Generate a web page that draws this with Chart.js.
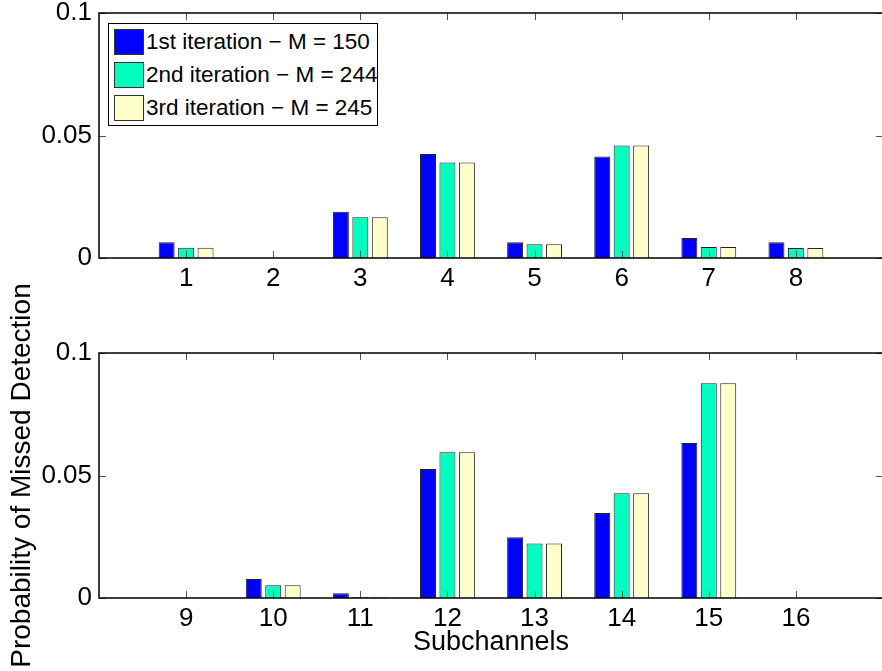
<!DOCTYPE html>
<html>
<head>
<meta charset="utf-8">
<script src="https://cdn.jsdelivr.net/npm/chart.js@4"></script>
<style>
  html, body { margin: 0; padding: 0; background: #fff; overflow: hidden; }
  body { width: 882px; height: 671px; position: relative; font-family: "Liberation Sans", Arial, sans-serif; }
  canvas { position: absolute; left: 0; }
  #legend { position: absolute; left: 108px; top: 23px; width: 268px; height: 101px; border: 1.5px solid #000; background: #fff; }
  .row { position: absolute; left: 5px; height: 25px; }
  .sw { position: absolute; left: 0; top: 0; width: 28px; height: 24px; border: 1px solid #333; }
  .lbl { position: absolute; left: 32px; top: 0; line-height: 26px; font-size: 22.5px; color: #000; white-space: nowrap; }
</style>
</head>
<body>
<canvas id="top" width="900" height="320" style="top:-20px"></canvas>
<canvas id="bottom" width="900" height="411" style="top:260px"></canvas>
<div id="legend"></div>
<script>
// subchannels shown in each panel
const subchTop = [1, 2, 3, 4, 5, 6, 7, 8];
const subchBottom = [9, 10, 11, 12, 13, 14, 15, 16];

// probability of missed detection per iteration
const iter1Top = [0.0064, 0, 0.0189, 0.0424, 0.0064, 0.0414, 0.0082, 0.0064];
const iter2Top = [0.0042, 0, 0.0166, 0.0390, 0.0056, 0.0459, 0.0045, 0.0041];
const iter3Top = [0.0042, 0, 0.0166, 0.0390, 0.0056, 0.0459, 0.0045, 0.0041];

const iter1Bottom = [0, 0.0078, 0.0019, 0.0527, 0.0248, 0.0347, 0.0633, 0];
const iter2Bottom = [0, 0.0052, 0.0004, 0.0595, 0.0222, 0.0428, 0.0877, 0];
const iter3Bottom = [0, 0.0052, 0.0004, 0.0595, 0.0222, 0.0428, 0.0877, 0];

const seriesLabels = ["1st iteration \u2212 M = 150", "2nd iteration \u2212 M = 244", "3rd iteration \u2212 M = 245"];
const seriesColors = ["#0000ff", "#00ffbf", "#ffffcc"];
const yTicks = [0, 0.05, 0.1];

const FONT = "'Liberation Sans', Arial, sans-serif";

// matlab style box with inward ticks
const boxPlugin = {
  id: "box",
  afterDatasetsDraw(chart) {
    const { ctx, chartArea: a, scales: { x, y } } = chart;
    ctx.save();
    ctx.strokeStyle = "#555";
    ctx.lineWidth = 1;
    ctx.beginPath();
    x.ticks.forEach(t => {
      const px = Math.round(x.getPixelForValue(t.value)) + 0.5;
      ctx.moveTo(px, a.top); ctx.lineTo(px, a.top + 7);
      ctx.moveTo(px, a.bottom); ctx.lineTo(px, a.bottom - 7);
    });
    y.ticks.forEach(t => {
      const py = Math.round(y.getPixelForValue(t.value)) + 0.5;
      ctx.moveTo(a.left, py); ctx.lineTo(a.left + 7, py);
      ctx.moveTo(a.right, py); ctx.lineTo(a.right - 7, py);
    });
    ctx.stroke();
    ctx.strokeStyle = "#000";
    ctx.lineWidth = 1.5;
    ctx.strokeRect(a.left, a.top, a.right - a.left, a.bottom - a.top);
    ctx.restore();
  }
};

const makeChart = (id, cats, series, padTop, xHeight, withTitles) => {
  const ctx = document.getElementById(id).getContext("2d");
  return new Chart(ctx, {
    type: "bar",
    data: {
      datasets: series.map((vals, i) => ({
        label: seriesLabels[i],
        data: cats.map((c, j) => ({ x: c, y: vals[j] })),
        backgroundColor: seriesColors[i],
        borderColor: "#222",
        borderWidth: 1,
        categoryPercentage: 0.67,
        barPercentage: 0.82,
      })),
    },
    options: {
      responsive: false,
      animation: false,
      layout: { padding: { top: padTop, right: 17, left: 0, bottom: 0 } },
      plugins: { legend: { display: false }, tooltip: { enabled: false } },
      scales: {
        x: {
          type: "linear",
          offset: false,
          min: cats[0] - 1,
          max: cats[cats.length - 1] + 1,
          afterBuildTicks: s => { s.ticks = cats.map(v => ({ value: v })); },
          afterFit: s => { s.height = xHeight; },
          grid: { display: false, drawTicks: false },
          border: { display: false },
          ticks: { color: "#000", font: { family: FONT, size: 26 }, padding: 5, maxRotation: 0, autoSkip: false },
          title: withTitles
            ? { display: true, text: "Subchannels", color: "#000", font: { family: FONT, size: 27 }, padding: { top: 0, bottom: 12 } }
            : { display: false },
        },
        y: {
          min: 0,
          max: 0.1,
          afterBuildTicks: s => { s.ticks = yTicks.map(v => ({ value: v })); },
          afterFit: s => { s.width = 99; },
          grid: { display: false, drawTicks: false },
          border: { display: false },
          ticks: { color: "#000", font: { family: FONT, size: 26 }, padding: 7, callback: v => String(+v.toFixed(4)) },
          title: withTitles
            ? { display: true, text: "Probability of Missed Detection", color: "#000", font: { family: FONT, size: 28 }, padding: { top: 5, bottom: 0 } }
            : { display: false },
        },
      },
    },
    plugins: [boxPlugin],
  });
};

makeChart("top", subchTop, [iter1Top, iter2Top, iter3Top], 33, 42, false);
makeChart("bottom", subchBottom, [iter1Bottom, iter2Bottom, iter3Bottom], 93, 73, true);

// legend box inside the upper panel
const legend = document.getElementById("legend");
seriesLabels.forEach((label, i) => {
  const row = document.createElement("div");
  row.className = "row";
  row.style.top = (5 + 33 * i) + "px";
  row.innerHTML = '<div class="sw" style="background:' + seriesColors[i] + '"></div><div class="lbl">' + label + "</div>";
  legend.appendChild(row);
});
</script>
</body>
</html>
